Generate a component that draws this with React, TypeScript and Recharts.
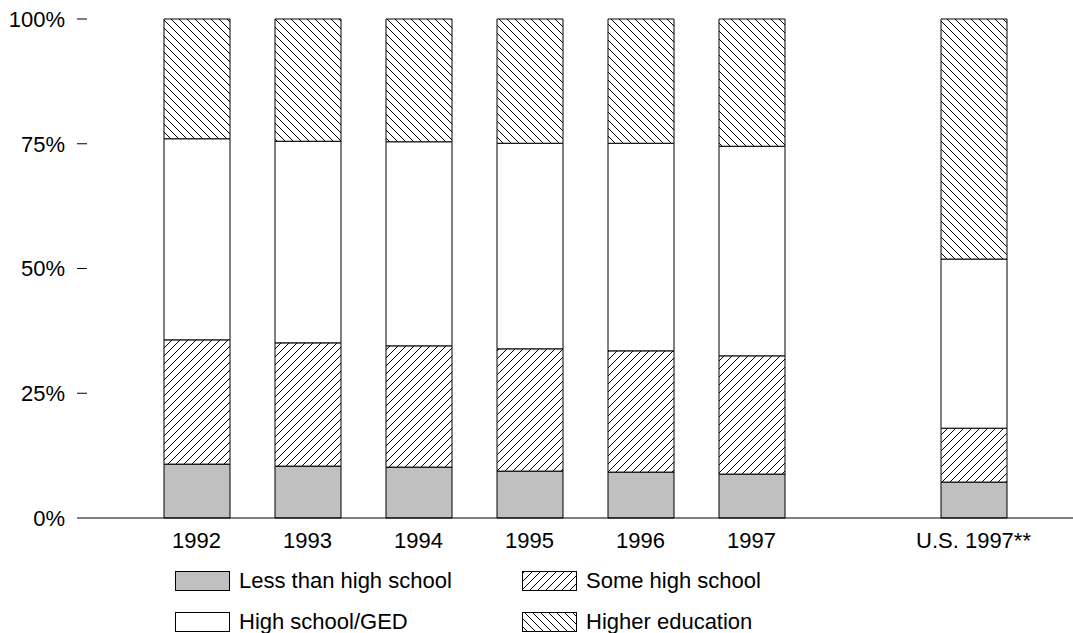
import React from 'react';
import { BarChart, Bar, XAxis, YAxis } from 'recharts';

// categories (empty slot keeps the gap before the U.S. bar)
const categories = ['1992', '1993', '1994', '1995', '1996', '1997', '', 'U.S. 1997**'];

// percent of inmates by education level
const lessThanHighSchool = [10.8, 10.4, 10.2, 9.4, 9.2, 8.8, null, 7.2];
const someHighSchool = [24.9, 24.7, 24.3, 24.5, 24.3, 23.7, null, 10.8];
const highSchoolGed = [40.3, 40.4, 40.9, 41.2, 41.6, 42.0, null, 33.9];
const higherEducation = [24.0, 24.5, 24.6, 24.9, 24.9, 25.5, null, 48.1];

const yTicks = [0, 25, 50, 75, 100];

const data = categories.map((name, i) => ({
  name,
  less: lessThanHighSchool[i],
  some: someHighSchool[i],
  hs: highSchoolGed[i],
  higher: higherEducation[i],
}));

const FONT = '"Liberation Sans", Arial, sans-serif';
const FONT_SIZE = 22;

const Patterns = ({ prefix }: { prefix: string }) => (
  <defs>
    <pattern id={`${prefix}-fwd`} patternUnits="userSpaceOnUse" width="8" height="8">
      <rect width="8" height="8" fill="#fff" />
      <path d="M0,8 L8,0 M-2,2 L2,-2 M6,10 L10,6" stroke="#000" strokeWidth="1" />
    </pattern>
    <pattern id={`${prefix}-back`} patternUnits="userSpaceOnUse" width="8" height="8">
      <rect width="8" height="8" fill="#fff" />
      <path d="M0,0 L8,8 M-2,6 L2,10 M6,-2 L10,2" stroke="#000" strokeWidth="1" />
    </pattern>
  </defs>
);

const legendItems = [
  { label: 'Less than high school', fill: '#c0c0c0', x: 175, y: 571 },
  { label: 'Some high school', fill: 'url(#lg-fwd)', x: 522, y: 571 },
  { label: 'High school/GED', fill: '#fff', x: 175, y: 612 },
  { label: 'Higher education', fill: 'url(#lg-back)', x: 522, y: 612 },
];

const LegendBlock = () => (
  <svg width={1073} height={633} style={{ position: 'absolute', left: 0, top: 0, pointerEvents: 'none' }}>
    <Patterns prefix="lg" />
    {legendItems.map((it) => (
      <g key={it.label}>
        <rect x={it.x + 0.5} y={it.y + 0.5} width={54} height={19} fill={it.fill} stroke="#000" strokeWidth={1} />
        <text x={it.x + 64} y={it.y + 17} fontFamily={FONT} fontSize={FONT_SIZE} fill="#000">
          {it.label}
        </text>
      </g>
    ))}
  </svg>
);

export default function App() {
  return (
    <div style={{ position: 'absolute', left: 0, top: 0, width: 1073, height: 633 }}>
      <BarChart
        width={1073}
        height={633}
        data={data}
        margin={{ top: 19, right: 0, bottom: 85, left: 0 }}
      >
        <Patterns prefix="bar" />
        <YAxis
          domain={[0, 100]}
          ticks={yTicks}
          tickFormatter={(v: number) => `${v}%`}
          width={87}
          axisLine={false}
          tickLine={{ stroke: '#000' }}
          tickSize={10}
          tickMargin={12}
          tick={{ fill: '#000', fontSize: FONT_SIZE, fontFamily: FONT }}
        />
        <XAxis
          dataKey="name"
          height={30}
          interval={0}
          padding={{ left: 54, right: 44 }}
          axisLine={{ stroke: '#000' }}
          tickLine={false}
          tickSize={0}
          tickMargin={14}
          tick={{ fill: '#000', fontSize: FONT_SIZE, fontFamily: FONT }}
        />
        <Bar dataKey="less" stackId="a" barSize={66} fill="#c0c0c0" stroke="#000" strokeWidth={1} isAnimationActive={false} />
        <Bar dataKey="some" stackId="a" barSize={66} fill="url(#bar-fwd)" stroke="#000" strokeWidth={1} isAnimationActive={false} />
        <Bar dataKey="hs" stackId="a" barSize={66} fill="#fff" stroke="#000" strokeWidth={1} isAnimationActive={false} />
        <Bar dataKey="higher" stackId="a" barSize={66} fill="url(#bar-back)" stroke="#000" strokeWidth={1} isAnimationActive={false} />
      </BarChart>
      <LegendBlock />
    </div>
  );
}
